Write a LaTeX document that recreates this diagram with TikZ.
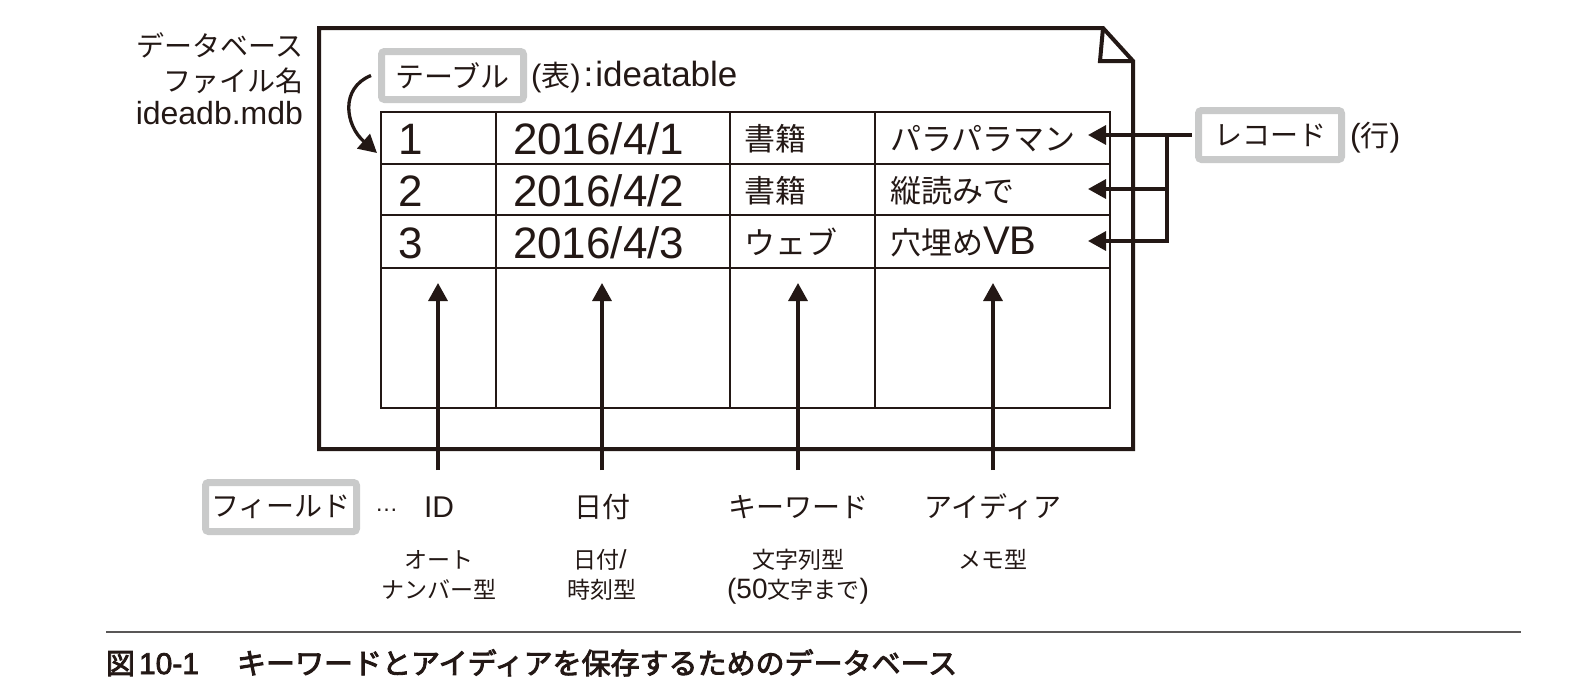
\documentclass[tikz,border=0pt]{standalone}
\usepackage{fontspec}
\setmainfont{Noto Sans CJK JP}
\newfontfamily\latf{Liberation Sans}
\newfontfamily\capf{Noto Sans CJK JP}[FakeBold=3]
\newfontfamily\caplat{Liberation Sans}[FakeBold=2.5]
\usetikzlibrary{arrows.meta}
\definecolor{ink}{HTML}{231815}
\definecolor{boxgray}{HTML}{C9CACA}
\definecolor{rulegray}{HTML}{595757}
\newcommand{\fsz}[1]{\fontsize{#1}{#1}\selectfont}
\newcommand{\LatT}[2]{{\latf\fontsize{#1}{#1}\selectfont #2}}
\begin{document}
\begin{tikzpicture}[x=1pt,y=-1pt,
  txt/.style={inner sep=0pt, outer sep=0pt, text=ink},
  graybox/.style={draw=boxgray, line width=7pt, fill=white, rounded corners=3pt, inner sep=0pt, text=ink},
  ptr/.style={draw=ink, line width=3.3pt, -{Triangle[length=18pt,width=19pt]}},
  wire/.style={draw=ink, line width=3.3pt},
  gridline/.style={draw=ink, line width=1.8pt},
  outline/.style={draw=ink, line width=4pt, line join=miter},
]
\useasboundingbox (0,0) rectangle (1586,683);
\fill[white] (0,0) rectangle (1586,683);

% document sheet with folded corner
\draw[outline] (319,28) -- (1103,28) -- (1133,61) -- (1133,449) -- (319,449) -- cycle;
\draw[outline] (1103,28) -- (1100,61) -- (1133,61);

% table grid
\draw[gridline] (381,112) rectangle (1110,408);
\foreach \yy in {164,215,268} \draw[gridline] (381,\yy) -- (1110,\yy);
\foreach \xx in {496,730,875} \draw[gridline] (\xx,112) -- (\xx,408);

% database file name
\node[txt, anchor=base east, font=\fsz{28}] (dbl1) at (303,56) {データベース};
\node[txt, anchor=base east, font=\fsz{28}] (dbl2) at (303,91) {ファイル名};
\node[txt, anchor=base east] (dbl3) at (303,124) {\LatT{32}{ideadb.mdb}};

% table label
\node[graybox, minimum width=142pt, minimum height=48pt, font=\fsz{29}] (tbl) at (452.5,75.5) {テーブル};
\node[txt, anchor=base west, font=\fsz{29}] (tblname) at (531,86) {\LatT{31}{(}表\LatT{31}{)}\hspace{3pt}\LatT{35}{:\hspace{2pt}ideatable}};
\coordinate (cs) at ([xshift=-7pt]tbl.west);
\coordinate (ce) at (377,153);
\draw[ptr] (cs) .. controls (340,88) and (345,125) .. (ce);

% table contents
\node[txt, anchor=base west] (c11) at (398,154) {\LatT{44}{1}};
\node[txt, anchor=base west] (c12) at (513,154) {\LatT{44}{2016/4/1}};
\node[txt, anchor=base west, font=\fsz{31}] (c13) at (744,150) {書籍};
\node[txt, anchor=base west, font=\fsz{31}] (c14) at (890,150) {パラパラマン};
\node[txt, anchor=base west] (c21) at (398,206) {\LatT{44}{2}};
\node[txt, anchor=base west] (c22) at (513,206) {\LatT{44}{2016/4/2}};
\node[txt, anchor=base west, font=\fsz{31}] (c23) at (744,202) {書籍};
\node[txt, anchor=base west, font=\fsz{31}] (c24) at (890,202) {縦読みで};
\node[txt, anchor=base west] (c31) at (398,258) {\LatT{44}{3}};
\node[txt, anchor=base west] (c32) at (513,258) {\LatT{44}{2016/4/3}};
\node[txt, anchor=base west, font=\fsz{31}] (c33) at (744,254) {ウェブ};
\node[txt, anchor=base west, font=\fsz{31}] (c34) at (890,254) {穴埋め\LatT{40}{VB}};

% record label and pointers
\node[graybox, minimum width=143pt, minimum height=49pt, font=\fsz{28}] (rec) at (1270,135) {レコード};
\node[txt, anchor=base west, font=\fsz{29}] (recp) at (1350,146) {\LatT{32}{(}行\LatT{32}{)}};
\coordinate (t1) at (1088,135);
\coordinate (t2) at (1088,189);
\coordinate (t3) at (1088,241);
\coordinate (b1) at (1167,135);
\coordinate (b2) at (1167,189);
\coordinate (b3) at (1167,241);
\draw[ptr] ([xshift=-3.5pt]rec.west) -- (t1);
\draw[wire, line cap=rect] (b1) -- (b3);
\draw[ptr] (b2) -- (t2);
\draw[ptr] (b3) -- (t3);

% field label
\node[graybox, minimum width=151pt, minimum height=49pt, font=\fsz{28}] (fld) at (281,507) {フィールド};
\node[txt, anchor=base west] (dots) at (375,511) {\LatT{23}{…}};
\node[txt, anchor=base, font=\fsz{28}] (fID) at (439,517) {\LatT{30}{ID}};
\node[txt, anchor=base, font=\fsz{28}] (fdate) at (602,517) {日付};
\node[txt, anchor=base, font=\fsz{28}] (fkw) at (798,517) {キーワード};
\node[txt, anchor=base, font=\fsz{28}] (fidea) at (993,517) {アイディア};

\node[txt, anchor=base, font=\fsz{23}] (sID1) at (439,568) {オート};
\node[txt, anchor=base, font=\fsz{23}] (sID2) at (439,598) {ナンバー型};
\node[txt, anchor=base, font=\fsz{23}] (sd1) at (600,568) {日付\LatT{26}{/}};
\node[txt, anchor=base, font=\fsz{23}] (sd2) at (602,598) {時刻型};
\node[txt, anchor=base, font=\fsz{23}] (sk1) at (798,568) {文字列型};
\node[txt, anchor=base, font=\fsz{23}] (sk2) at (798,598) {\LatT{28}{(50}文字まで\LatT{28}{)}};
\node[txt, anchor=base, font=\fsz{23}] (sm1) at (993,568) {メモ型};

% column pointers
\foreach \cx/\nm in {438/a, 602/b, 798/c, 993/d}{
  \coordinate (s\nm) at (\cx,470);
  \coordinate (h\nm) at (\cx,283);
  \draw[ptr] (s\nm) -- (h\nm);
}

% caption
\draw[draw=rulegray, line width=2pt] (106,632) -- (1521,632);
\node[txt, anchor=base west, font=\capf\fsz{29}] (cap) at (106,674) {図\hspace{4pt}{\caplat\fsz{30}10-1}\hspace{38pt}キーワードとアイディアを保存するためのデータベース};
\end{tikzpicture}
\end{document}
